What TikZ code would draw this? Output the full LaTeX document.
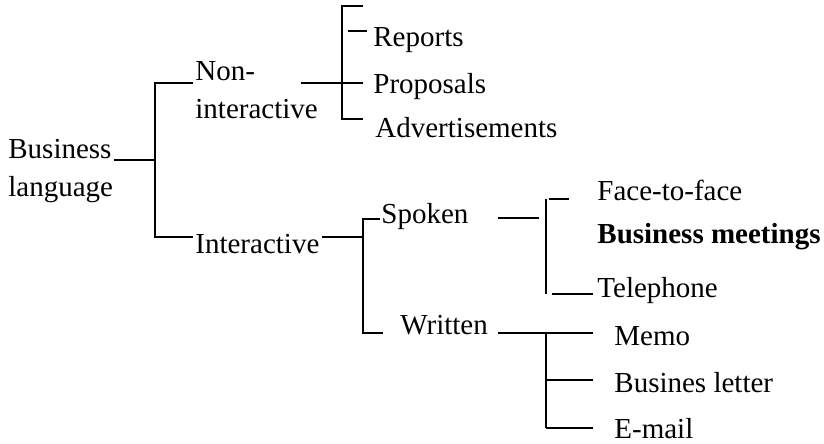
\documentclass[tikz,border=0pt]{standalone}
\usepackage{fontspec}
\setmainfont{Liberation Serif}
\tikzset{
    lbl/.style={anchor=base west, inner sep=0pt, align=left,
        font=\fontsize{14.5}{19}\selectfont},
    br/.style={line width=1pt}
}
\begin{document}
\begin{tikzpicture}[x=0.5pt,y=-0.5pt]
    \useasboundingbox (0,0) rectangle (824,444);
% labels
    \foreach \n/\x/\y/\t in {bus/8/196/{Business\\language},
        nonint/195/119/{Non-\\interactive}, inter/195/253/Interactive,
        rep/373/47/Reports, prop/373/94/Proposals, adv/375/137/Advertisements,
        spok/381/223/Spoken, writ/400/334/Written,
        face/597/200/Face-to-face, tel/597/297/Telephone,
        memo/614/345/Memo, lett/614/392/Busines letter, mail/614/438/E-mail}{
        \node[lbl] (\n) at (\x,\y) {\t};
    }
    \node[lbl, font=\fontsize{14.5}{19}\selectfont\bfseries] (meet) at (597,243) {Business meetings};
% junctions
    \foreach \n/\x/\y in {a0/114/160, a1/155/160, a2/155/83, a3/193/83, a4/155/237, a5/193/237,
        b0/301/83, b1/342/83, b2/363/83, b3/342/6, b4/363/6, b5/342/119, b6/363/119,
        b7/348/31, b8/367/31,
        c0/322/237, c1/363/237, c2/363/219, c3/380/219, c4/363/333, c5/383/333,
        d0/498/218, d1/539/218, d2/546/199, d3/546/294, d4/549/199, d5/569/199,
        d6/552/294, d7/593/294,
        e0/498/333, e1/546/333, e2/593/333, e3/546/380, e4/593/380, e5/546/428, e6/593/428}{
        \coordinate (\n) at (\x,\y);
    }
% tree
    \draw[br] (a0) -- (a1);
    \draw[br] (a3) -- (a2) -- (a4) -- (a5);
    \draw[br] (b0) -- (b2);
    \draw[br] (b4) -- (b3) -- (b5) -- (b6);
    \draw[br] (b7) -- (b8);
    \draw[br] (c0) -- (c1);
    \draw[br] (c3) -- (c2) -- (c4) -- (c5);
    \draw[br] (d0) -- (d1);
    \draw[br] (d2) -- (d3);
    \draw[br] (d4) -- (d5);
    \draw[br] (d6) -- (d7);
    \draw[br] (e0) -- (e2);
    \draw[br] (e1) -- (e5);
    \foreach \u/\v in {e3/e4, e5/e6}{
        \draw[br] (\u) -- (\v);
    }
\end{tikzpicture}
\end{document}
